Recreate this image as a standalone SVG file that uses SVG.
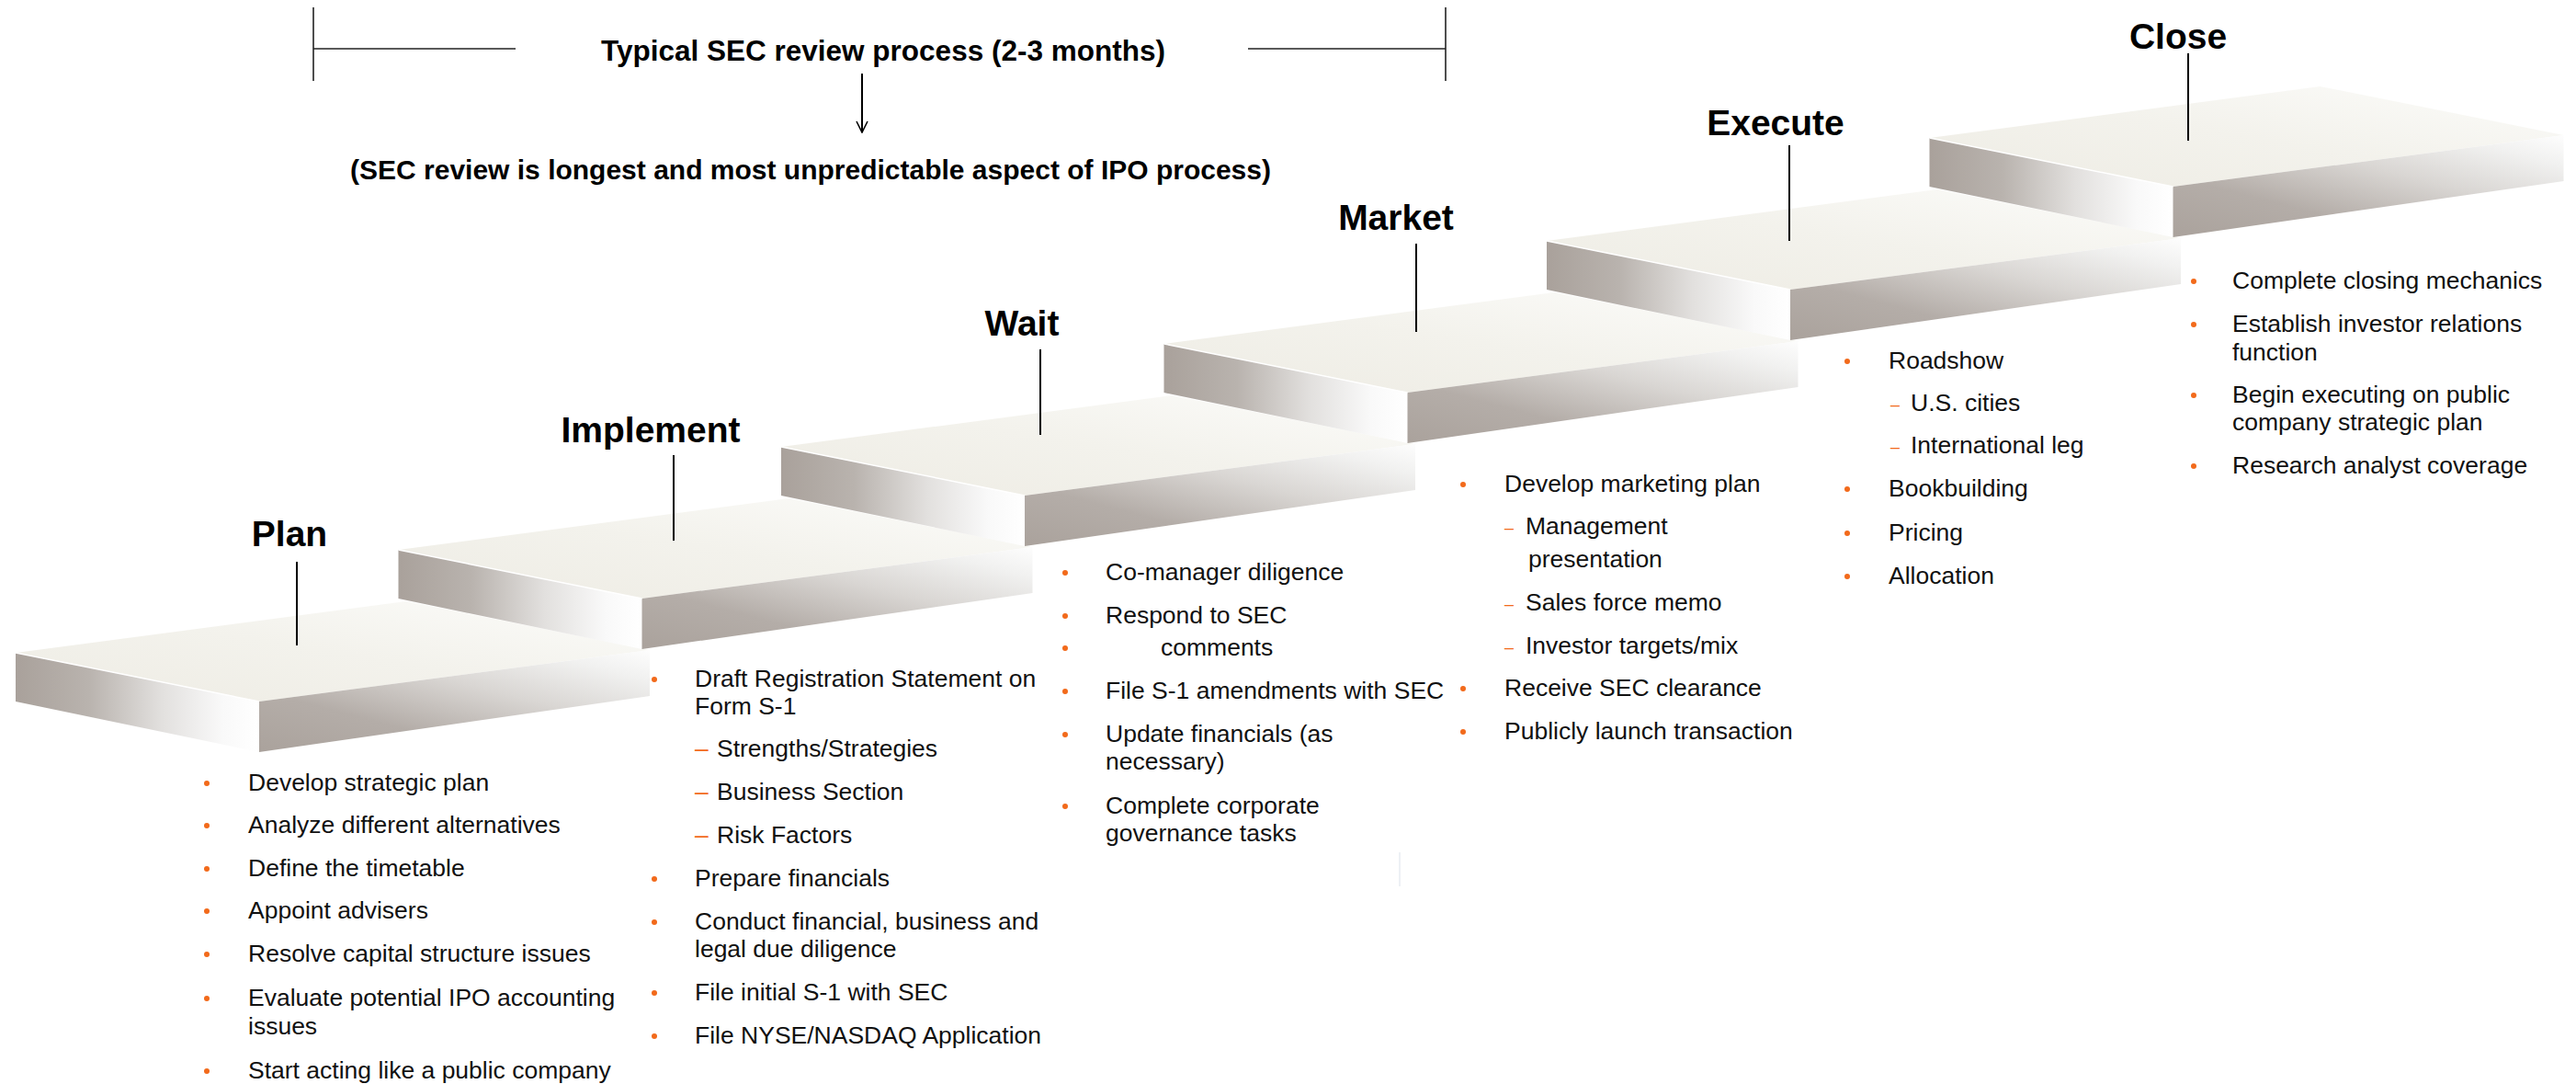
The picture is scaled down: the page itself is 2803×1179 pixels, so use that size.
<svg xmlns="http://www.w3.org/2000/svg" xmlns:xlink="http://www.w3.org/1999/xlink" width="2803" height="1179" viewBox="0 0 2803 1179">
  <style>
    .title { font-family: "Liberation Sans", Arial, sans-serif; font-weight: bold; font-size: 39px; text-anchor: middle; fill: #000; }
    .hdr { font-family: "Liberation Sans", Arial, sans-serif; font-weight: bold; font-size: 30px; text-anchor: middle; fill: #000; }
    .item { font-family: "Liberation Sans", Arial, sans-serif; font-size: 26.5px; fill: #111; }
    .dash { font-family: "Liberation Sans", Arial, sans-serif; font-size: 26.5px; fill: #f26a1b; }
    .dash-s { font-family: "Liberation Sans", Arial, sans-serif; font-size: 18px; fill: #f26a1b; }
    .dot { fill: #f26a1b; }
    .lead { stroke: #000; stroke-width: 2; fill: none; }
    .bracket { stroke: #222; stroke-width: 1.6; fill: none; }
    .conn { stroke: #000; stroke-width: 2; fill: none; }
  </style>
  <defs>
    <linearGradient id="gTop" x1="0" y1="1" x2="1" y2="0">
      <stop offset="0" stop-color="#eeece4"/>
      <stop offset="0.5" stop-color="#f3f2ec"/>
      <stop offset="1" stop-color="#fcfcfa"/>
    </linearGradient>
    <linearGradient id="gSide" x1="0" y1="0" x2="1" y2="0">
      <stop offset="0" stop-color="#a9a19b"/>
      <stop offset="0.3" stop-color="#b9b3ae"/>
      <stop offset="0.6" stop-color="#e2e0de"/>
      <stop offset="0.85" stop-color="#f9f9f9"/>
      <stop offset="1" stop-color="#ffffff"/>
    </linearGradient>
    <linearGradient id="gFront" x1="0" y1="1" x2="1" y2="0">
      <stop offset="0" stop-color="#aaa29c"/>
      <stop offset="0.3" stop-color="#b4ada8"/>
      <stop offset="0.6" stop-color="#d9d6d3"/>
      <stop offset="0.85" stop-color="#f1f1f0"/>
      <stop offset="1" stop-color="#fdfdfd"/>
    </linearGradient>
    <!-- one stair slab: top face, left side, front side -->
    <g id="slab">
      <polygon points="17,710 282,763 707,707 442,654" fill="url(#gTop)"/>
      <polygon points="17,710 282,763 282,818 17,763" fill="url(#gSide)"/>
      <polygon points="282,763 707,707 707,757 282,818" fill="url(#gFront)"/>
      <line x1="17" y1="710" x2="282" y2="763" stroke="#ffffff" stroke-width="1.5"/>
    </g>
    <!-- open V head, drawn along +x so orient="auto" points it down the line -->
    <marker id="openArrow" viewBox="0 0 14 14" refX="13" refY="7" markerWidth="14" markerHeight="14" markerUnits="userSpaceOnUse" orient="auto">
      <path d="M1,1 L13,7 L1,13" fill="none" stroke="#000" stroke-width="1.6"/>
    </marker>
  </defs>

  <rect width="2803" height="1179" fill="#ffffff"/>

  <!-- header: SEC review bracket and note -->
  <g id="sec-review">
    <line class="bracket" x1="341" y1="8" x2="341" y2="88"/>
    <line class="bracket" x1="341" y1="53" x2="561" y2="53"/>
    <line class="bracket" x1="1358" y1="53" x2="1573" y2="53"/>
    <line class="bracket" x1="1573" y1="8" x2="1573" y2="88"/>
    <text class="hdr" x="961" y="66" style="font-size:31.5px">Typical SEC review process (2-3 months)</text>
  </g>
  <g id="sec-note">
    <text class="hdr" x="882" y="195">(SEC review is longest and most unpredictable aspect of IPO process)</text>
  </g>

  <!-- step 1 -->
  <g id="step-plan">
    <use href="#slab" xlink:href="#slab"/>
    <text class="title" x="315" y="594">Plan</text>
    <line class="lead" x1="323" y1="611" x2="323" y2="702"/>
    <circle class="dot" cx="225" cy="852" r="3"/><text class="item" x="270" y="860">Develop strategic plan</text>
    <circle class="dot" cx="225" cy="898" r="3"/><text class="item" x="270" y="906">Analyze different alternatives</text>
    <circle class="dot" cx="225" cy="945" r="3"/><text class="item" x="270" y="953">Define the timetable</text>
    <circle class="dot" cx="225" cy="991" r="3"/><text class="item" x="270" y="999">Appoint advisers</text>
    <circle class="dot" cx="225" cy="1038" r="3"/><text class="item" x="270" y="1046">Resolve capital structure issues</text>
    <circle class="dot" cx="225" cy="1086" r="3"/><text class="item" x="270" y="1094">Evaluate potential IPO accounting</text>
    <text class="item" x="270" y="1125">issues</text>
    <circle class="dot" cx="225" cy="1165" r="3"/><text class="item" x="270" y="1173">Start acting like a public company</text>
  </g>

  <!-- step 2 -->
  <g id="step-implement">
    <use href="#slab" xlink:href="#slab" transform="translate(416.5,-112)"/>
    <text class="title" x="708" y="481">Implement</text>
    <line class="lead" x1="733" y1="495" x2="733" y2="588"/>
    <circle class="dot" cx="712" cy="739" r="3"/><text class="item" x="756" y="747">Draft Registration Statement on</text>
    <text class="item" x="756" y="777">Form S-1</text>
    <text class="dash" x="756" y="823">–</text><text class="item" x="780" y="823">Strengths/Strategies</text>
    <text class="dash" x="756" y="870">–</text><text class="item" x="780" y="870">Business Section</text>
    <text class="dash" x="756" y="917">–</text><text class="item" x="780" y="917">Risk Factors</text>
    <circle class="dot" cx="712" cy="956" r="3"/><text class="item" x="756" y="964">Prepare financials</text>
    <circle class="dot" cx="712" cy="1003" r="3"/><text class="item" x="756" y="1011">Conduct financial, business and</text>
    <text class="item" x="756" y="1041">legal due diligence</text>
    <circle class="dot" cx="712" cy="1080" r="3"/><text class="item" x="756" y="1088">File initial S-1 with SEC</text>
    <circle class="dot" cx="712" cy="1127" r="3"/><text class="item" x="756" y="1135">File NYSE/NASDAQ Application</text>
  </g>

  <!-- step 3 -->
  <g id="step-wait">
    <use href="#slab" xlink:href="#slab" transform="translate(833,-224)"/>
    <text class="title" x="1112" y="365">Wait</text>
    <line class="lead" x1="1132" y1="380" x2="1132" y2="473"/>
    <circle class="dot" cx="1159" cy="623" r="3"/><text class="item" x="1203" y="631">Co-manager diligence</text>
    <circle class="dot" cx="1159" cy="670" r="3"/><text class="item" x="1203" y="678">Respond to SEC</text>
    <circle class="dot" cx="1159" cy="705" r="3"/><text class="item" x="1263" y="713">comments</text>
    <circle class="dot" cx="1159" cy="752" r="3"/><text class="item" x="1203" y="760">File S-1 amendments with SEC</text>
    <circle class="dot" cx="1159" cy="799" r="3"/><text class="item" x="1203" y="807">Update financials (as</text>
    <text class="item" x="1203" y="837">necessary)</text>
    <circle class="dot" cx="1159" cy="877" r="3"/><text class="item" x="1203" y="885">Complete corporate</text>
    <text class="item" x="1203" y="915">governance tasks</text>
    <line x1="1523" y1="927" x2="1523" y2="964" stroke="#dbe2ea" stroke-width="1"/>
  </g>

  <!-- step 4 -->
  <g id="step-market">
    <use href="#slab" xlink:href="#slab" transform="translate(1249.5,-336)"/>
    <text class="title" x="1519" y="250">Market</text>
    <line class="lead" x1="1541" y1="265" x2="1541" y2="361"/>
    <circle class="dot" cx="1592" cy="527" r="3"/><text class="item" x="1637" y="535">Develop marketing plan</text>
    <text class="dash-s" x="1637" y="580">–</text><text class="item" x="1660" y="581">Management</text>
    <text class="item" x="1663" y="617">presentation</text>
    <text class="dash-s" x="1637" y="663">–</text><text class="item" x="1660" y="664">Sales force memo</text>
    <text class="dash-s" x="1637" y="710">–</text><text class="item" x="1660" y="711">Investor targets/mix</text>
    <circle class="dot" cx="1592" cy="749" r="3"/><text class="item" x="1637" y="757">Receive SEC clearance</text>
    <circle class="dot" cx="1592" cy="796" r="3"/><text class="item" x="1637" y="804">Publicly launch transaction</text>
  </g>

  <!-- step 5 -->
  <g id="step-execute">
    <use href="#slab" xlink:href="#slab" transform="translate(1666,-448)"/>
    <text class="title" x="1932" y="147">Execute</text>
    <line class="lead" x1="1947" y1="158" x2="1947" y2="262"/>
    <circle class="dot" cx="2010" cy="393" r="3"/><text class="item" x="2055" y="401">Roadshow</text>
    <text class="dash-s" x="2057" y="446">–</text><text class="item" x="2079" y="447">U.S. cities</text>
    <text class="dash-s" x="2057" y="492">–</text><text class="item" x="2079" y="493">International leg</text>
    <circle class="dot" cx="2010" cy="532" r="3"/><text class="item" x="2055" y="540">Bookbuilding</text>
    <circle class="dot" cx="2010" cy="580" r="3"/><text class="item" x="2055" y="588">Pricing</text>
    <circle class="dot" cx="2010" cy="627" r="3"/><text class="item" x="2055" y="635">Allocation</text>
  </g>

  <!-- step 6 -->
  <g id="step-close">
    <use href="#slab" xlink:href="#slab" transform="translate(2082.5,-560)"/>
    <text class="title" x="2370" y="53">Close</text>
    <line class="lead" x1="2381" y1="58" x2="2381" y2="153"/>
    <circle class="dot" cx="2387" cy="306" r="3"/><text class="item" x="2429" y="314">Complete closing mechanics</text>
    <circle class="dot" cx="2387" cy="353" r="3"/><text class="item" x="2429" y="361">Establish investor relations</text>
    <text class="item" x="2429" y="392">function</text>
    <circle class="dot" cx="2387" cy="430" r="3"/><text class="item" x="2429" y="438">Begin executing on public</text>
    <text class="item" x="2429" y="468">company strategic plan</text>
    <circle class="dot" cx="2387" cy="507" r="3"/><text class="item" x="2429" y="515">Research analyst coverage</text>
  </g>

  <!-- connectors -->
  <g id="connectors">
    <line class="conn" x1="938" y1="80" x2="938" y2="144" marker-end="url(#openArrow)"/>
  </g>
</svg>
